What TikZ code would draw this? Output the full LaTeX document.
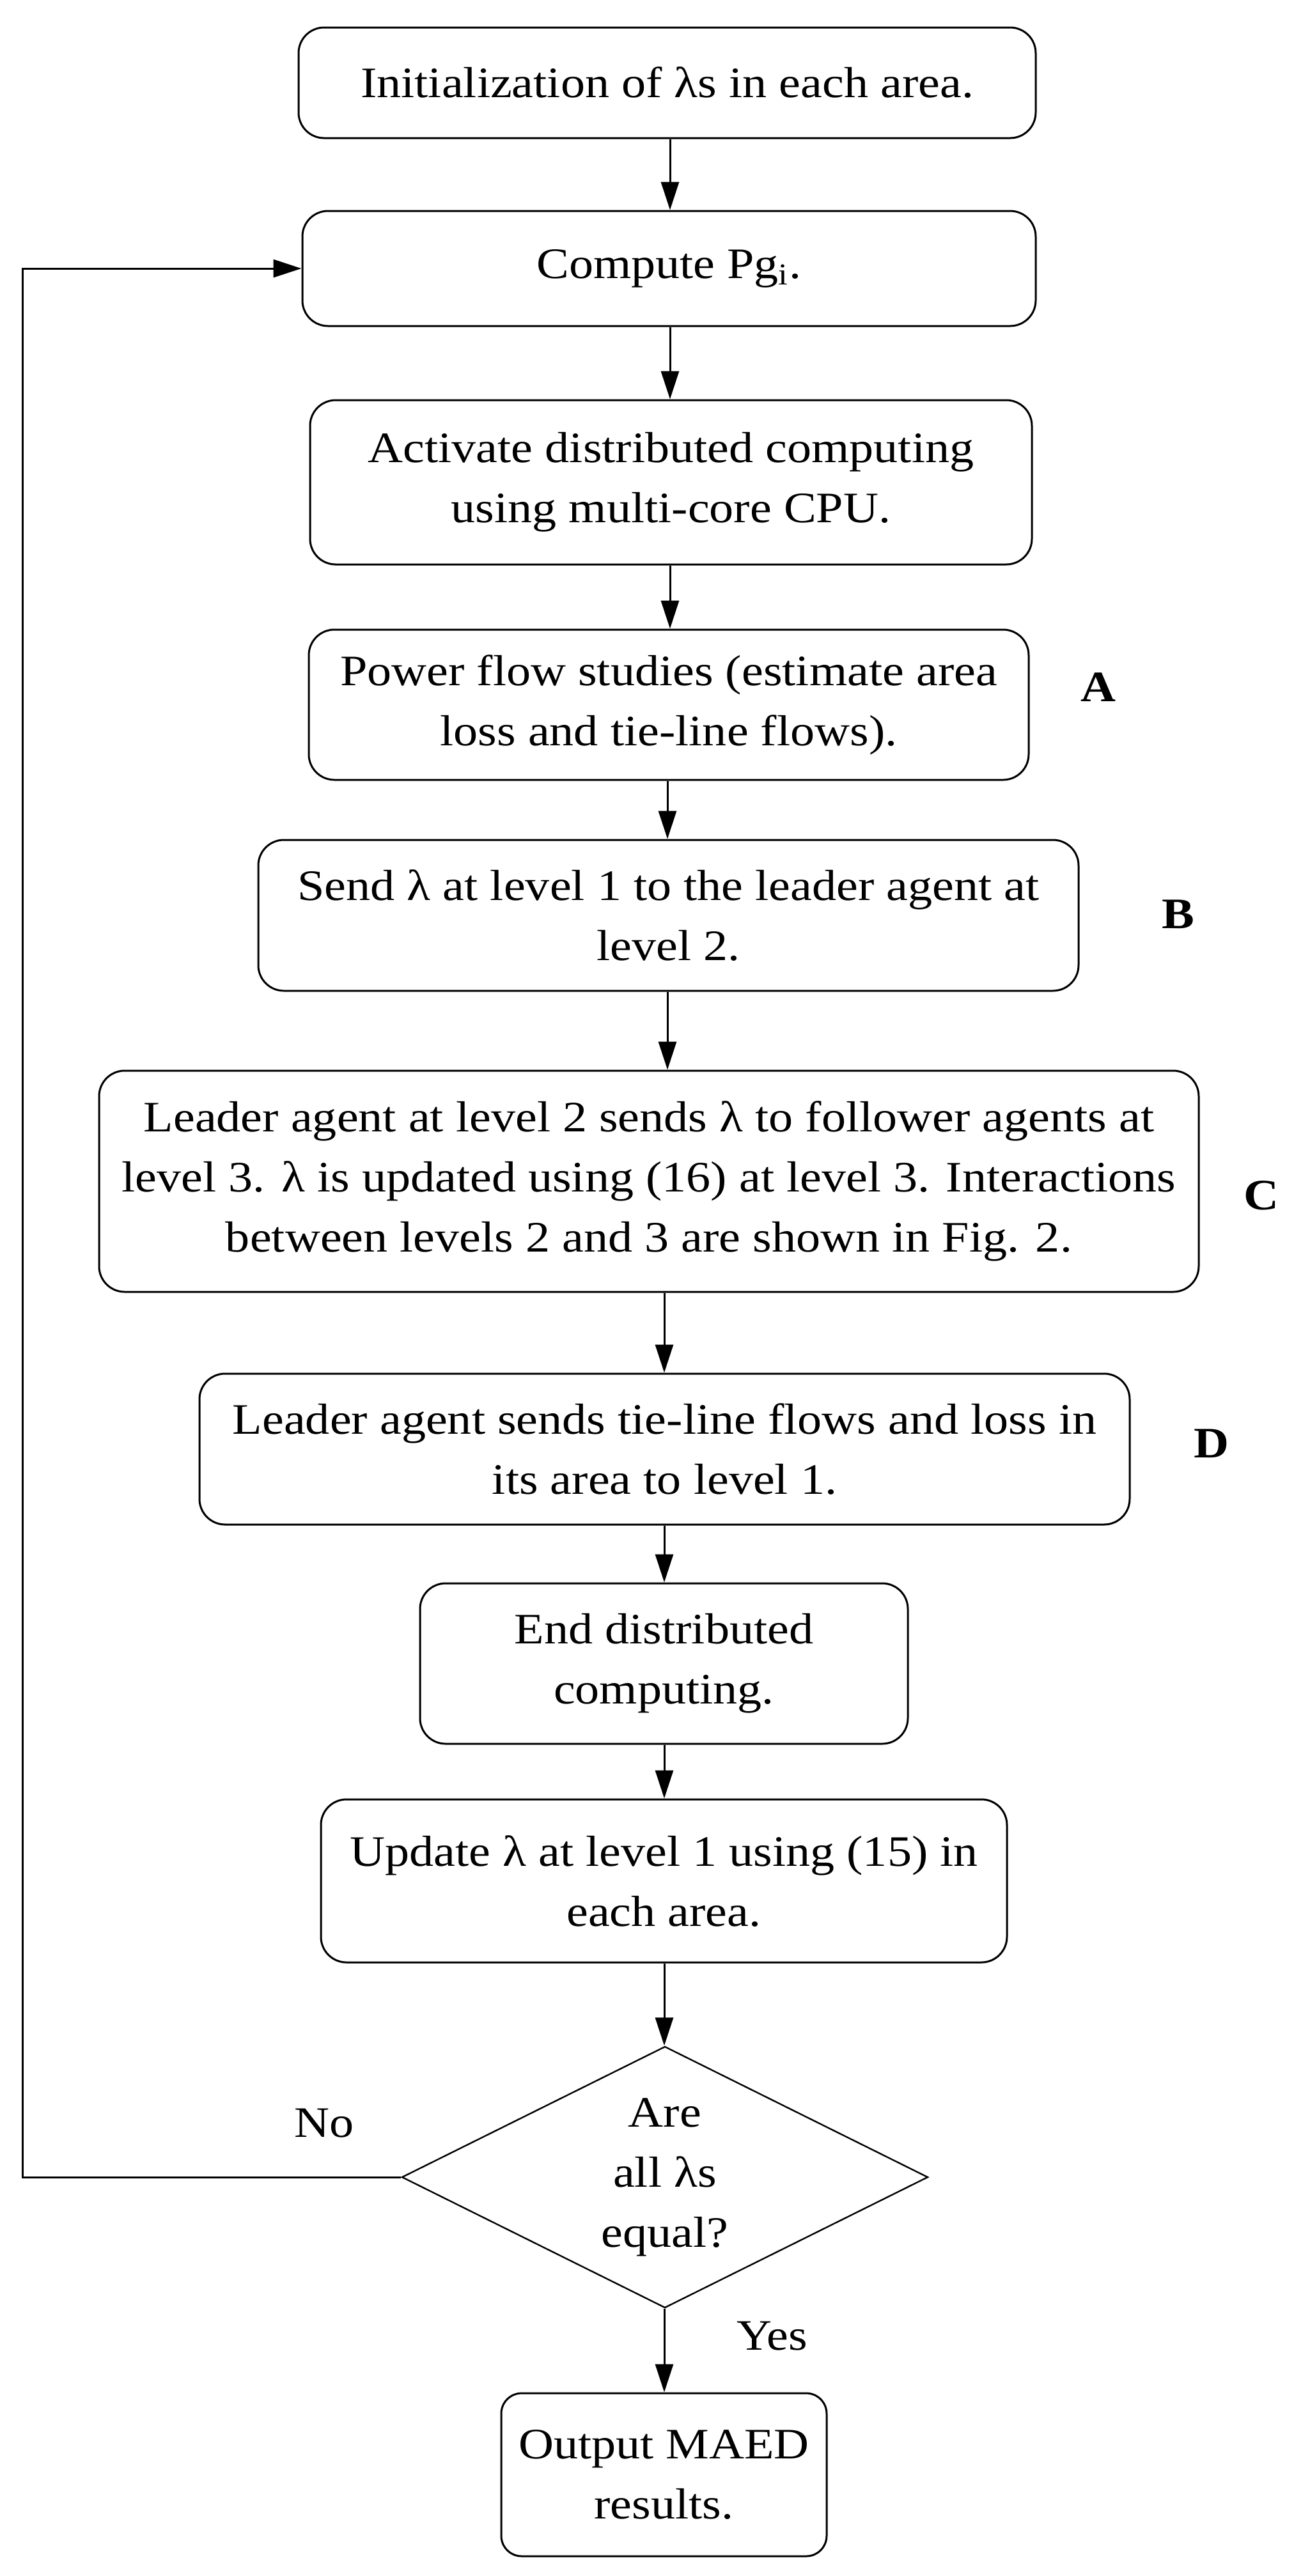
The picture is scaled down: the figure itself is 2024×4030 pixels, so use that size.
\documentclass[tikz,border=0pt]{standalone}
\usepackage{fontspec}
\setmainfont[FakeStretch=1.12]{Liberation Serif}
\usetikzlibrary{arrows.meta,shapes.geometric}
\begin{document}
\begin{tikzpicture}[x=0.25pt,y=-0.25pt,
  txt/.style={font=\fontsize{17}{23.5}\selectfont},
  box/.style={txt, draw, line width=0.75pt, rounded corners=10pt, align=center, inner sep=0pt},
  dec/.style={txt, draw, line width=0.6pt, shape=diamond, aspect=2, align=center, inner sep=0pt},
  arr/.style={line width=0.75pt, -{Triangle[length=11pt,width=7pt]}},
  lab/.style={font=\fontsize{17}{20}\selectfont\bfseries, inner sep=0pt}]
\useasboundingbox (0,0) rectangle (2024,4030);

\node[box, minimum width=288.25pt, minimum height=43.25pt] (b1) at (1043.5,129.5) {Initialization of λs in each area.};
\node[box, minimum width=286.75pt, minimum height=45pt] (b2) at (1046.5,420) {Compute Pg\textsubscript{i}.};
\node[box, minimum width=282.25pt, minimum height=64.25pt] (b3) at (1049.5,754.5) {Activate distributed computing\\using multi-core CPU.};
\node[box, minimum width=281.5pt, minimum height=58.75pt] (b4) at (1046,1102.5) {Power flow studies (estimate area\\loss and tie-line flows).};
\node[box, minimum width=320.75pt, minimum height=59pt] (b5) at (1045.5,1432) {Send λ at level 1 to the leader agent at\\level 2.};
\node[box, minimum width=430pt, minimum height=86.5pt] (b6) at (1015,1848) {Leader agent at level 2 sends λ to follower agents at\\level 3. λ is updated using (16) at level 3. Interactions\\between levels 2 and 3 are shown in Fig. 2.};
\node[box, minimum width=363.75pt, minimum height=59pt] (b7) at (1039.5,2267) {Leader agent sends tie-line flows and loss in\\its area to level 1.};
\node[box, minimum width=190.75pt, minimum height=62.75pt] (b8) at (1038.5,2602.5) {End distributed\\computing.};
\node[box, minimum width=268.25pt, minimum height=63.75pt] (b9) at (1038.5,2942.5) {Update λ at level 1 using (15) in\\each area.};
\node[dec, minimum width=205.75pt, minimum height=102.25pt] (dia) at (1040,3406) {Are\\all λs\\equal?};
\node[box, rounded corners=8pt, minimum width=127.25pt, minimum height=63.75pt] (out) at (1038.5,3871.5) {Output MAED\\results.};

\node[lab] (la) at (1718,1075) {A};
\node[lab] (lb) at (1843,1430) {B};
\node[lab] (lc) at (1973,1870) {C};
\node[lab] (ld) at (1895,2258) {D};
\node[txt, inner sep=0pt] (no) at (507,3322) {No};
\node[txt, inner sep=0pt] (yes) at (1208,3655) {Yes};

\coordinate (xa) at (1048,0);
\coordinate (xb) at (1044,0);
\coordinate (xc) at (1039,0);
\coordinate (lx) at (35,0);

\draw[arr] (b1.south -| xa) -- (b2.north -| xa);
\draw[arr] (b2.south -| xa) -- (b3.north -| xa);
\draw[arr] (b3.south -| xa) -- (b4.north -| xa);
\draw[arr] (b4.south -| xb) -- (b5.north -| xb);
\draw[arr] (b5.south -| xb) -- (b6.north -| xb);
\draw[arr] (b6.south -| xc) -- (b7.north -| xc);
\draw[arr] (b7.south -| xc) -- (b8.north -| xc);
\draw[arr] (b8.south -| xc) -- (b9.north -| xc);
\draw[arr] (b9.south -| xc) -- (dia.north -| xc);
\draw[arr] (dia.south -| xc) -- (out.north -| xc);
\draw[arr] (dia.west) -- (dia.west -| lx) |- (b2.west);
\end{tikzpicture}
\end{document}
